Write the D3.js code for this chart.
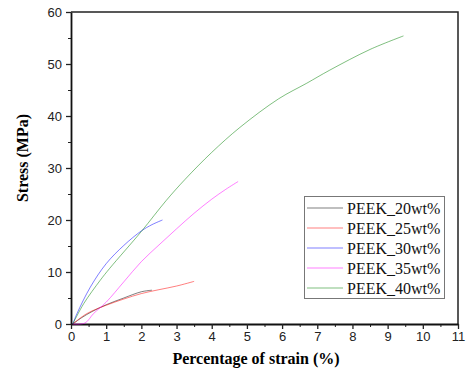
<!DOCTYPE html>
<html>
<head>
<meta charset="utf-8">
<script src="https://cdn.jsdelivr.net/npm/d3@7"></script>
<style>
  body { margin: 0; background: #fff; }
  svg { display: block; }
</style>
</head>
<body>
<div id="chart"></div>
<script>
const width = 467;
const height = 369;
const margin = { top: 12, right: 9, bottom: 45, left: 71 };

const seriesNames = ["PEEK_20wt%", "PEEK_25wt%", "PEEK_30wt%", "PEEK_35wt%", "PEEK_40wt%"];
const seriesColors = ["#000000", "#ff0000", "#0000ff", "#ff00ff", "#008000"];

// strain (%) / stress (MPa)
const peek20 = [[0.05, 0], [0.3, 1.2], [0.6, 2.4], [1.0, 3.7], [1.5, 5.0], [2.0, 6.2], [2.3, 6.5]];
const peek25 = [[0.05, 0], [0.45, 2.0], [1.0, 3.6], [1.5, 4.8], [2.0, 5.85], [2.5, 6.6], [3.0, 7.3], [3.5, 8.2]];
const peek30 = [[0.05, 0], [0.17, 2.0], [0.55, 7.1], [1.0, 11.6], [1.5, 15.1], [2.0, 17.9], [2.3, 19.1], [2.6, 20.0]];
const peek35 = [[0.05, 0], [0.4, 0.2], [0.64, 2.0], [1.0, 4.2], [1.5, 8.1], [2.0, 12.0], [2.5, 15.2], [3.0, 18.3], [3.5, 21.3], [4.0, 24.0], [4.4, 25.9], [4.75, 27.4]];
const peek40 = [[0.05, 0], [0.36, 3.9], [0.83, 8.4], [1.1, 10.7], [2.0, 17.8], [2.7, 23.7], [3.24, 27.8], [4.0, 33.0], [4.8, 37.8], [5.9, 43.3], [6.7, 46.3], [7.35, 48.8], [8.5, 52.8], [9.45, 55.4]];
const seriesData = [peek20, peek25, peek30, peek35, peek40];

const xTicks = d3.range(0, 12, 1);
const yTicks = d3.range(0, 70, 10);

const svg = d3.select("#chart")
  .append("svg")
  .attr("width", width)
  .attr("height", height);

const x = d3.scaleLinear().domain([0, 11]).range([margin.left, width - margin.right]);
const y = d3.scaleLinear().domain([0, 60]).range([height - margin.bottom, margin.top]);

// frame: top and right borders
svg.append("path")
  .attr("d", `M${x(0)},${y(60)}H${x(11)}V${y(0)}`)
  .attr("fill", "none")
  .attr("stroke", "#222")
  .attr("stroke-width", 1.5);

// minor ticks
svg.append("g")
  .attr("transform", `translate(0,${y(0)})`)
  .call(d3.axisBottom(x).tickValues(d3.range(0.5, 11, 1)).tickSize(3).tickFormat(""))
  .call(g => g.select(".domain").remove());
svg.append("g")
  .attr("transform", `translate(${x(0)},0)`)
  .call(d3.axisLeft(y).tickValues(d3.range(5, 60, 10)).tickSize(3).tickFormat(""))
  .call(g => g.select(".domain").remove());

const xAxis = svg.append("g")
  .attr("transform", `translate(0,${y(0)})`)
  .call(d3.axisBottom(x).tickValues(xTicks).tickSize(5).tickSizeOuter(0).tickPadding(3).tickFormat(d3.format("d")));
const yAxis = svg.append("g")
  .attr("transform", `translate(${x(0)},0)`)
  .call(d3.axisLeft(y).tickValues(yTicks).tickSize(5).tickSizeOuter(0).tickPadding(4).tickFormat(d3.format("d")));

[xAxis, yAxis].forEach(g => {
  g.select(".domain").attr("stroke-width", 1.8).attr("stroke", "#111");
  g.selectAll(".tick line").attr("stroke-width", 1.3);
  g.selectAll("text")
    .attr("font-family", "Liberation Sans, Arial, sans-serif")
    .attr("font-size", 13)
    .attr("fill", "#222");
});
svg.selectAll(".tick line").attr("stroke", "#222");

// curves
const line = d3.line()
  .x(d => x(d[0]))
  .y(d => y(d[1]))
  .curve(d3.curveCatmullRom.alpha(0.5));

svg.append("g")
  .selectAll("path")
  .data(seriesData)
  .join("path")
  .attr("d", line)
  .attr("fill", "none")
  .attr("stroke", (d, i) => seriesColors[i])
  .attr("stroke-opacity", 0.5)
  .attr("stroke-width", 1);

// axis titles
svg.append("text")
  .attr("x", 256)
  .attr("y", 364)
  .attr("text-anchor", "middle")
  .attr("font-family", "Liberation Serif, Times New Roman, serif")
  .attr("font-weight", "bold")
  .attr("font-size", 16)
  .text("Percentage of strain (%)");

svg.append("text")
  .attr("transform", "translate(28,158) rotate(-90)")
  .attr("text-anchor", "middle")
  .attr("font-family", "Liberation Serif, Times New Roman, serif")
  .attr("font-weight", "bold")
  .attr("font-size", 16)
  .text("Stress (MPa)");

// legend
const legend = svg.append("g");
legend.append("rect")
  .attr("x", 304.5)
  .attr("y", 196.5)
  .attr("width", 140)
  .attr("height", 102)
  .attr("fill", "#fff")
  .attr("stroke", "#777")
  .attr("stroke-width", 1);

const rows = legend.selectAll("g.row")
  .data(seriesNames)
  .join("g")
  .attr("class", "row")
  .attr("transform", (d, i) => `translate(0,${208 + i * 20})`);

rows.append("line")
  .attr("x1", 307)
  .attr("x2", 343)
  .attr("stroke", (d, i) => seriesColors[i])
  .attr("stroke-opacity", 0.5)
  .attr("stroke-width", 1);

rows.append("text")
  .attr("x", 347)
  .attr("y", 5.5)
  .attr("font-family", "Liberation Serif, Times New Roman, serif")
  .attr("font-size", 16)
  .attr("fill", "#111")
  .text(d => d);
</script>
</body>
</html>
